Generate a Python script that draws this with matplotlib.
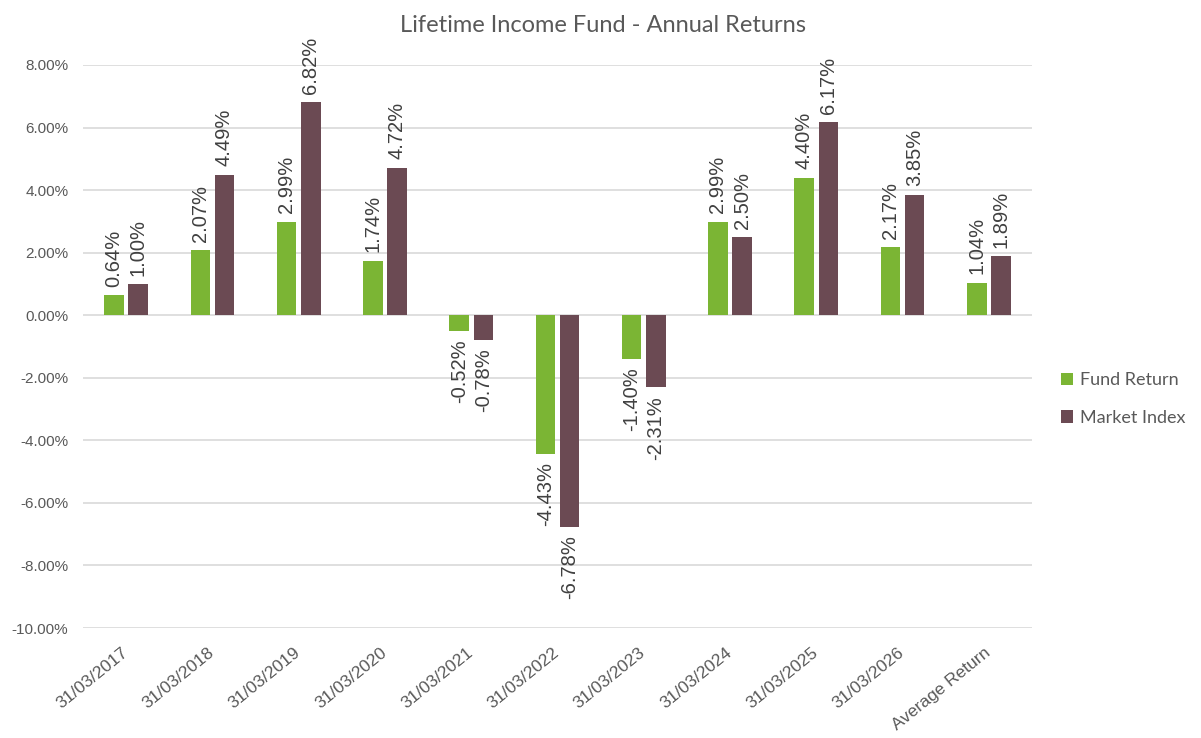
import matplotlib
matplotlib.use("Agg")
import matplotlib.pyplot as plt
import matplotlib.transforms as mtransforms
from matplotlib.patches import Patch
import numpy as np

categories = ["31/03/2017", "31/03/2018", "31/03/2019", "31/03/2020", "31/03/2021",
              "31/03/2022", "31/03/2023", "31/03/2024", "31/03/2025", "31/03/2026",
              "Average Return"]
fund_return = [0.64, 2.07, 2.99, 1.74, -0.52, -4.43, -1.40, 2.99, 4.40, 2.17, 1.04]
market_index = [1.00, 4.49, 6.82, 4.72, -0.78, -6.78, -2.31, 2.50, 6.17, 3.85, 1.89]
series_names = ["Fund Return", "Market Index"]
yticks = [-10, -8, -6, -4, -2, 0, 2, 4, 6, 8]

GREEN = "#7bb534"
MAROON = "#6b4a53"
TXT = "#595959"
LBL = "#404040"

fig = plt.figure(figsize=(12.01, 7.38), dpi=100)
ax = fig.add_axes([83/1201, 1-628/738, (1032-83)/1201, (628-65)/738])

x = np.arange(len(categories))
w = 0.226
off = 0.14
b1 = ax.bar(x - off, fund_return, w, color=GREEN, zorder=3)
b2 = ax.bar(x + off, market_index, w, color=MAROON, zorder=3)

for bars, vals in ((b1, fund_return), (b2, market_index)):
    for rect, v in zip(bars, vals):
        cx = rect.get_x() + rect.get_width()/2
        if v >= 0:
            ax.annotate(f"{v:.2f}%", (cx, v), xytext=(0, 6), textcoords="offset points",
                        rotation=90, ha="center", va="bottom", fontsize=14.5,
                        family="Liberation Sans", color=LBL)
        else:
            ax.annotate(f"{v:.2f}%", (cx, v), xytext=(0, -6), textcoords="offset points",
                        rotation=90, ha="center", va="top", fontsize=14.5,
                        family="Liberation Sans", color=LBL)

ax.set_ylim(-10, 8)
ax.set_xlim(-0.5, len(categories) - 0.5)
ax.set_yticks(yticks)
ax.set_yticklabels([f"{t:.2f}%" for t in yticks], fontsize=11, family="Liberation Sans", color=TXT)
ax.grid(axis="y", color="#d9d9d9", linewidth=1.2, zorder=0)
ax.set_axisbelow(True)
for s in ax.spines.values():
    s.set_visible(False)
ax.tick_params(axis="both", length=0)
ax.tick_params(axis="y", pad=10.5)

ax.set_xticks(x)
ax.set_xticklabels(categories, rotation=39, ha="right", va="top", rotation_mode="anchor",
                   fontsize=12.5, family="Liberation Sans", color=TXT)
ax.tick_params(axis="x", pad=12)
shift = mtransforms.ScaledTranslation(-5/100, 0, fig.dpi_scale_trans)
for lab in ax.get_xticklabels():
    lab.set_transform(lab.get_transform() + shift)

fig.text(0.502, 1-25/738, "Lifetime Income Fund - Annual Returns", ha="center", va="center",
         fontsize=17, family="Lato", color=TXT)

handles = [Patch(facecolor=GREEN), Patch(facecolor=MAROON)]
fig.legend(handles, series_names, loc="center left", bbox_to_anchor=(1061/1201, 1-399/738),
           frameon=False, prop={"family": "Lato", "size": 13}, labelcolor=TXT,
           handlelength=0.65, handleheight=0.65, handletextpad=0.4, labelspacing=1.2,
           borderpad=0, borderaxespad=0)

fig.savefig("out.png", dpi=100)
